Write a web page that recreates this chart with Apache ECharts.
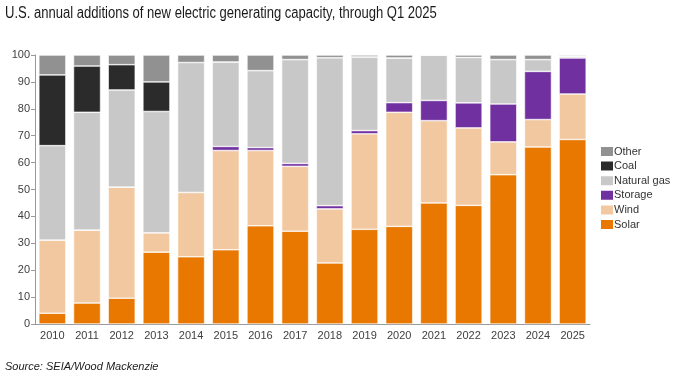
<!DOCTYPE html>
<html><head><meta charset="utf-8">
<script src="https://cdn.jsdelivr.net/npm/echarts@6/dist/echarts.min.js"></script>
<style>html,body{margin:0;padding:0;background:#fff}#c{width:681px;height:383px}</style>
</head><body><div id="c"></div>
<script>
const years = ['2010','2011','2012','2013','2014','2015','2016','2017','2018','2019','2020','2021','2022','2023','2024','2025'];
const solar = [4.0, 7.8, 9.6, 26.7, 25.0, 27.6, 36.5, 34.5, 22.7, 35.2, 36.3, 45.0, 44.1, 55.5, 65.8, 68.6];
const wind = [27.2, 27.1, 41.3, 7.2, 23.9, 36.9, 28.0, 24.1, 20.1, 35.5, 42.4, 30.6, 28.8, 12.2, 10.2, 16.9];
const storage = [0, 0, 0, 0, 0, 1.5, 1.1, 1.1, 1.2, 1.2, 3.6, 7.5, 9.3, 14.1, 17.9, 13.4];
const naturalGas = [35.1, 43.8, 36.1, 45.1, 48.3, 31.4, 28.6, 38.6, 55.0, 27.4, 16.6, 16.9, 16.9, 16.5, 4.4, 0.7];
const coal = [26.3, 17.2, 9.4, 11.0, 0, 0, 0, 0, 0, 0, 0, 0, 0, 0, 0, 0];
const other = [7.4, 4.1, 3.6, 10.0, 2.8, 2.6, 5.8, 1.7, 1.0, 0.7, 1.1, 0, 0.9, 1.7, 1.7, 0.4];
const yTicks = [0,10,20,30,40,50,60,70,80,90,100];

const seriesDefs = [
  ['Solar', solar, '#E87800'],
  ['Wind', wind, '#F2C8A0'],
  ['Storage', storage, '#7030A0'],
  ['Natural gas', naturalGas, '#C8C8C8'],
  ['Coal', coal, '#2B2B2B'],
  ['Other', other, '#919191']
];
const font = 'Arial, "Liberation Sans", sans-serif';
const chart = echarts.init(document.getElementById('c'), null, {renderer:'canvas'});
chart.setOption({
  animation: false,
  textStyle: {fontFamily: font},
  graphic: [
    {type: 'text', left: 5, top: 6, scaleX: 0.815, originX: 0,
     style: {text: 'U.S. annual additions of new electric generating capacity, through Q1 2025',
       font: 'normal 16px ' + font, fill: '#1a1a1a'}},
    {type: 'text', left: 5, top: 361,
     style: {text: 'Source: SEIA/Wood Mackenzie', font: 'italic 11px ' + font, fill: '#1a1a1a'}}
  ],
  legend: {
    orient: 'vertical', left: 594, top: 140, itemWidth: 14, itemHeight: 11, itemGap: 1.6,
    data: ['Other','Coal','Natural gas','Storage','Wind','Solar'],
    textStyle: {fontSize: 11, color: '#333', padding: [0,0,0,-5]},
    icon: 'rect'
  },
  grid: {left: 35, right: 91, top: 55, bottom: 59},
  xAxis: {
    type: 'category', data: years,
    axisLine: {lineStyle: {color: '#999'}},
    axisTick: {show: false},
    axisLabel: {color: '#404040', fontSize: 11, margin: 6}
  },
  yAxis: {
    type: 'value', min: 0, max: 100, interval: 10,
    axisLine: {show: true, lineStyle: {color: '#999'}},
    axisTick: {show: true, length: 4, lineStyle: {color: '#999'}},
    splitLine: {show: false},
    axisLabel: {color: '#404040', fontSize: 11, margin: 5,
      formatter: v => yTicks.includes(v) ? String(v) : ''}
  },
  series: seriesDefs.map(([name, data, color]) => ({
    name, type: 'bar', stack: 'total', data, barCategoryGap: '22%',
    itemStyle: {color, borderColor: '#fff', borderWidth: 0.6}
  }))
});
</script></body></html>
